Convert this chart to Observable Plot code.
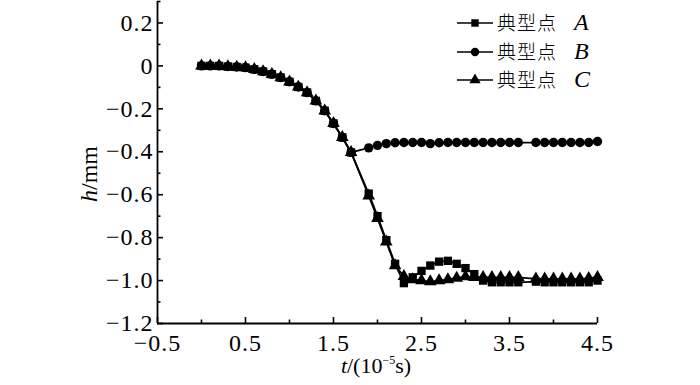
<!DOCTYPE html>
<html>
<head>
<meta charset="utf-8">
<script src="https://cdn.jsdelivr.net/npm/d3@7"></script>
<script src="https://cdn.jsdelivr.net/npm/@observablehq/plot@0.6"></script>
<style>
  html, body { margin: 0; padding: 0; background: #fff; }
  svg { display: block; }
  svg text, svg tspan { font-family: "Liberation Serif", "Times New Roman", Times, serif; }
  svg g[aria-label$="tick label"] text { font-size: 24px; letter-spacing: 1px; }
  svg text tspan.cjk { font-family: "Noto Sans CJK SC", sans-serif; }
</style>
</head>
<body>
<div id="chart"></div>
<script>
// ---- data ----
const tValues = [0, 0.1, 0.2, 0.3, 0.4, 0.5, 0.6, 0.7, 0.8, 0.9, 1.0, 1.1, 1.2, 1.3, 1.4, 1.5, 1.6, 1.7,
  1.9, 2.0, 2.1, 2.2, 2.3, 2.4, 2.5, 2.6, 2.7, 2.8, 2.9, 3.0, 3.1, 3.2, 3.3, 3.4, 3.5, 3.6,
  3.8, 3.9, 4.0, 4.1, 4.2, 4.3, 4.4, 4.5];
const hA = [0, 0, 0, -0.003, -0.005, -0.008, -0.016, -0.026, -0.039, -0.054, -0.074, -0.098, -0.124, -0.163, -0.209, -0.268, -0.333, -0.403,
  -0.595, -0.700, -0.812, -0.922, -1.012, -0.985, -0.955, -0.930, -0.912, -0.908, -0.922, -0.942, -0.970, -1.000, -1.008, -1.008, -1.008, -1.008,
  -1.005, -1.008, -1.008, -1.008, -1.008, -1.008, -1.008, -1.000];
const hB = [0, 0, 0, -0.003, -0.005, -0.008, -0.016, -0.026, -0.039, -0.054, -0.074, -0.098, -0.124, -0.163, -0.209, -0.268, -0.333, -0.403,
  -0.382, -0.370, -0.362, -0.358, -0.357, -0.357, -0.357, -0.362, -0.358, -0.357, -0.357, -0.357, -0.357, -0.357, -0.357, -0.357, -0.357, -0.357,
  -0.357, -0.357, -0.357, -0.357, -0.357, -0.357, -0.357, -0.352];
const hC = [0, 0, 0, -0.003, -0.005, -0.008, -0.016, -0.026, -0.039, -0.054, -0.074, -0.098, -0.124, -0.163, -0.209, -0.268, -0.333, -0.403,
  -0.605, -0.710, -0.820, -0.930, -0.980, -0.995, -1.000, -1.005, -1.000, -0.995, -0.988, -0.982, -0.985, -0.985, -0.985, -0.985, -0.985, -0.985,
  -0.992, -0.992, -0.992, -0.992, -0.992, -0.992, -0.990, -0.985];
const seriesNames = ["A", "B", "C"];
const seriesSymbols = ["square", "circle", "triangle"];
const legendPrefix = "典型点";
const xMajorTicks = [-0.5, 0.5, 1.5, 2.5, 3.5, 4.5];
const xMinorTicks = [0, 1, 2, 3, 4];
const yMajorTicks = [0.2, 0, -0.2, -0.4, -0.6, -0.8, -1.0, -1.2];
const yMinorTicks = [0.3, 0.1, -0.1, -0.3, -0.5, -0.7, -0.9, -1.1];
const xDomain = [-0.5, 4.5];
const yDomain = [-1.2, 0.3];

// ---- build table ----
const seriesValues = [hA, hB, hC];
const records = seriesNames.flatMap((s, i) =>
  tValues.map((t, j) => ({ t, h: seriesValues[i][j], series: s })));

const fmt = d => d === 0 ? "0" : d3.format(".1f")(d);
const FONT = "Liberation Serif, Times New Roman, serif";
const FS = 24;
const R = 4.7;

const svg = Plot.plot({
  width: 700,
  height: 385,
  marginLeft: 157,
  marginRight: 103,
  marginTop: 1,
  marginBottom: 62,
  style: { background: "#fff", color: "#000" },
  x: { domain: xDomain, label: null },
  y: { domain: yDomain, label: null },
  symbol: { domain: seriesNames, range: seriesSymbols },
  marks: [
    Plot.line(records, { x: "t", y: "h", z: "series", stroke: "#000", strokeWidth: 1.8 }),
    Plot.dot(records, { x: "t", y: "h", symbol: "series", fill: "#000", stroke: "none", r: R }),
    // axis lines
    Plot.ruleX([xDomain[0]], { stroke: "#000", strokeWidth: 1.8 }),
    Plot.ruleY([yDomain[0]], { stroke: "#000", strokeWidth: 1.8 }),
    // inward ticks
    Plot.axisX({ ticks: xMajorTicks, tickSize: 6, dy: -6, text: null, strokeWidth: 1.6, label: null }),
    Plot.axisX({ ticks: xMinorTicks, tickSize: 3.5, dy: -3.5, text: null, strokeWidth: 1.6, label: null }),
    Plot.axisY({ ticks: yMajorTicks, tickSize: 6, dx: 6, text: null, strokeWidth: 1.6, label: null }),
    Plot.axisY({ ticks: yMinorTicks, tickSize: 3.5, dx: 3.5, text: null, strokeWidth: 1.6, label: null }),
    // tick labels
    Plot.axisX({ ticks: xMajorTicks, tickSize: 0, tickPadding: 10, tickFormat: fmt, fontSize: FS, fontFamily: FONT, label: null, fill: "#000" }),
    Plot.axisY({ ticks: yMajorTicks, tickSize: 0, tickPadding: 4, tickFormat: fmt, fontSize: FS, fontFamily: FONT, label: null, fill: "#000" })
  ]
});

const s = d3.select(svg);
s.attr("font-family", FONT);
// make sure tick labels use the intended size and face
s.selectAll('g[aria-label$="tick label"]')
  .attr("font-size", FS).attr("font-family", FONT)
  .style("font-size", FS + "px").style("font-family", FONT);

// x title: t/(10^-5 s)
const xt = s.append("text")
  .attr("x", 376).attr("y", 373)
  .attr("text-anchor", "middle")
  .attr("font-size", 22).attr("fill", "#000");
xt.append("tspan").attr("font-style", "italic").text("t");
xt.append("tspan").text("/(10");
xt.append("tspan").attr("font-size", 12).attr("dy", -9).text("−5");
xt.append("tspan").attr("dy", 9).text("s)");

// y title: h/mm
const yt = s.append("text")
  .attr("transform", "translate(97,174) rotate(-90)")
  .attr("text-anchor", "middle")
  .attr("font-size", FS).attr("fill", "#000");
yt.append("tspan").attr("font-style", "italic").text("h");
yt.append("tspan").text("/mm");

// legend
const symMap = { square: d3.symbolSquare, circle: d3.symbolCircle, triangle: d3.symbolTriangle };
const legendRows = [23, 52, 80];
const lg = s.append("g");
seriesNames.forEach((name, i) => {
  const y = legendRows[i];
  lg.append("line").attr("x1", 457).attr("x2", 493).attr("y1", y).attr("y2", y)
    .attr("stroke", "#000").attr("stroke-width", 1.7);
  lg.append("path")
    .attr("transform", `translate(475,${y})`)
    .attr("d", d3.symbol(symMap[seriesSymbols[i]], R * R * Math.PI * 0.8)())
    .attr("fill", "#000");
  const tx = lg.append("text").attr("x", 497).attr("y", y).attr("dy", "0.36em")
    .attr("text-anchor", "start")
    .attr("fill", "#000").attr("font-size", 19);
  tx.append("tspan").attr("class", "cjk").attr("font-weight", 300).attr("letter-spacing", "1px").text(legendPrefix);
  tx.append("tspan").attr("x", 574).attr("font-style", "italic").attr("font-size", FS).text(name);
});

document.getElementById("chart").appendChild(svg);
</script>
</body>
</html>
